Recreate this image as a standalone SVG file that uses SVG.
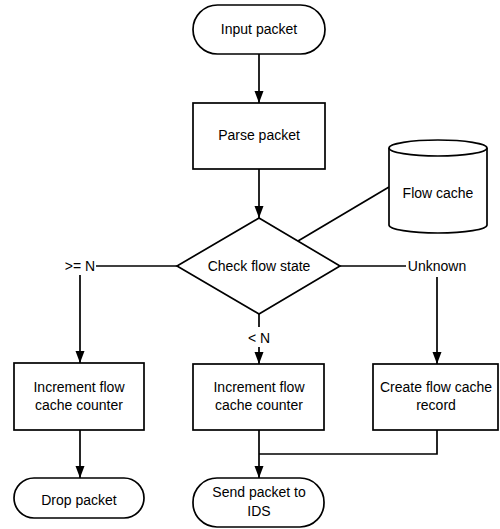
<svg xmlns="http://www.w3.org/2000/svg" width="500" height="529" viewBox="0 0 500 529">
<style>
.s{fill:#fff;stroke:#000;stroke-width:1.7}
.c{fill:none;stroke:#000;stroke-width:1.7}
text{font-family:"Liberation Sans",Arial,sans-serif;font-size:14px;fill:#000;text-anchor:middle}
</style>
<defs>
<marker id="a" viewBox="0 0 12 9" refX="12" refY="4.5" markerWidth="12" markerHeight="9" markerUnits="userSpaceOnUse" orient="auto" style="overflow:visible">
<path d="M0,0 L12,4.5 L0,9 z" fill="#000"/>
</marker>
</defs>
<rect width="500" height="529" fill="#fff"/>
<g id="connectors">
<path class="c" d="M259,54 V103" marker-end="url(#a)"/>
<path class="c" d="M259,169 V218" marker-end="url(#a)"/>
<path class="c" d="M389,187 L298,241"/>
<path class="c" d="M177,266 H96"/>
<path class="c" d="M80,275 V363" marker-end="url(#a)"/>
<path class="c" d="M340,266 H406"/>
<path class="c" d="M437,277 V364" marker-end="url(#a)"/>
<path class="c" d="M259,314 V327"/>
<path class="c" d="M259,347 V364" marker-end="url(#a)"/>
<path class="c" d="M80,430 V478" marker-end="url(#a)"/>
<path class="c" d="M259,430 V478" marker-end="url(#a)"/>
<path class="c" d="M437,430 V454 H259"/>
<text x="80" y="271">&gt;= N</text>
<text x="437" y="271">Unknown</text>
<text x="259" y="343">&lt; N</text>
</g>
<g id="input">
<rect class="s" x="193" y="5" width="132" height="49" rx="24.5"/>
<text x="259" y="34">Input packet</text>
</g>
<g id="parse">
<rect class="s" x="193" y="103" width="132" height="66"/>
<text x="259" y="140">Parse packet</text>
</g>
<g id="flowcache">
<path class="s" d="M389,148 A49,8 0 0 1 487,148 V225 A49,8 0 0 1 389,225 Z"/>
<path class="c" d="M389,148 A49,8 0 0 0 487,148"/>
<text x="438" y="198">Flow cache</text>
</g>
<g id="check">
<path class="s" d="M259,218 L340,266 L259,314 L177,266 Z"/>
<text x="259" y="271">Check flow state</text>
</g>
<g id="inc1">
<rect class="s" x="14" y="363" width="130" height="67"/>
<text x="79" y="392">Increment flow</text>
<text x="79" y="410">cache counter</text>
</g>
<g id="inc2">
<rect class="s" x="193" y="364" width="131" height="66"/>
<text x="259" y="392">Increment flow</text>
<text x="259" y="410">cache counter</text>
</g>
<g id="create">
<rect class="s" x="373" y="364" width="125" height="66"/>
<text x="436" y="392">Create flow cache</text>
<text x="436" y="410">record</text>
</g>
<g id="drop">
<rect class="s" x="14" y="478" width="130" height="40" rx="20"/>
<text x="79" y="505">Drop packet</text>
</g>
<g id="send">
<rect class="s" x="193" y="478" width="131" height="49" rx="24"/>
<text x="259" y="497">Send packet to</text>
<text x="259" y="516">IDS</text>
</g>
</svg>
